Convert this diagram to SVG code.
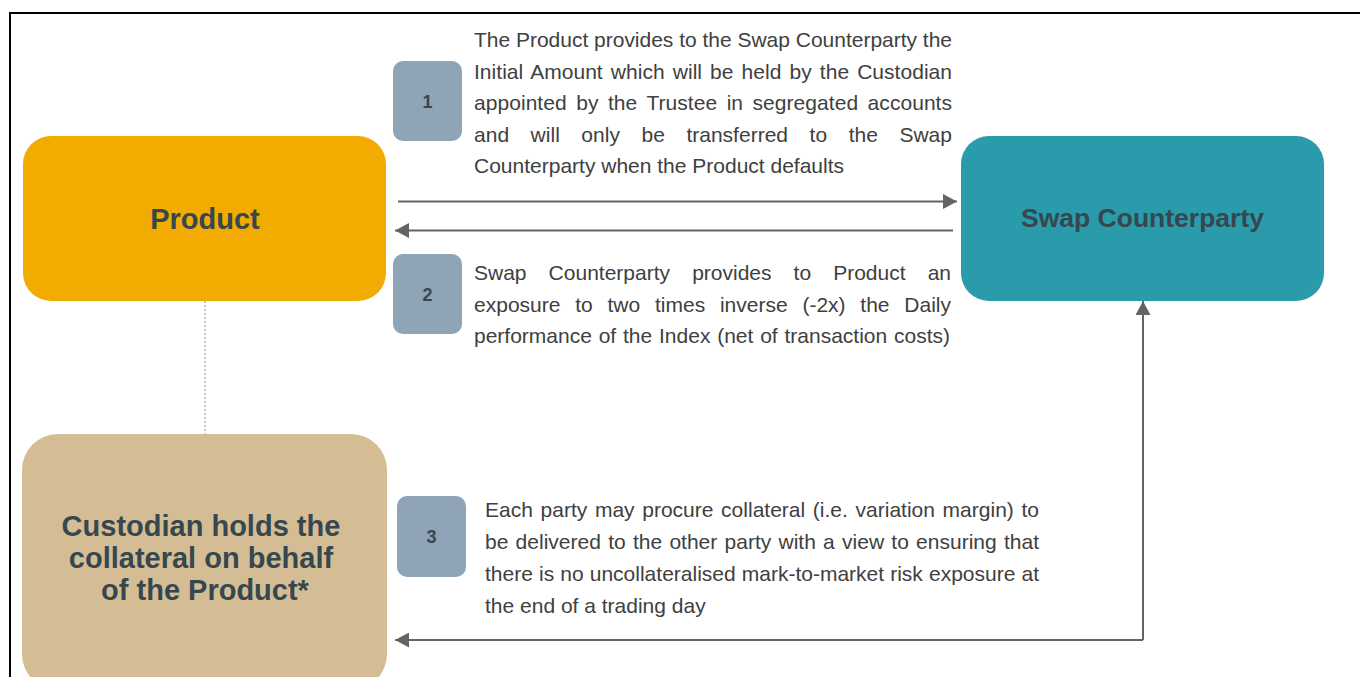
<svg xmlns="http://www.w3.org/2000/svg" width="1360" height="677" viewBox="0 0 1360 677">
  <style>
    .title { font-family: "Liberation Sans", Arial, sans-serif; font-weight: bold; fill: #37474F; text-anchor: middle; }
    .num { font-family: "Liberation Sans", Arial, sans-serif; font-weight: bold; font-size: 18px; fill: #37474F; text-anchor: middle; }
    .body { font-family: "Liberation Sans", Arial, sans-serif; font-size: 21px; fill: #404040; }
    .badge { fill: #8FA4B7; }
    .conn { fill: none; stroke: #646464; stroke-width: 2; }
  </style>
  <defs>
    <marker id="arrow" markerUnits="userSpaceOnUse" viewBox="0 0 14 15" markerWidth="14" markerHeight="15" refX="14" refY="7.5" orient="auto">
      <path d="M0,0 L14,7.5 L0,15 Z" fill="#646464"/>
    </marker>
  </defs>

  <rect width="1360" height="677" fill="#FFFFFF"/>
  <!-- page frame -->
  <rect x="10" y="13" width="1400" height="720" fill="none" stroke="#000000" stroke-width="2"/>

  <!-- connectors -->
  <g id="connectors">
    <line x1="205" y1="301" x2="205" y2="434" stroke="#C4C4C4" stroke-width="2" stroke-dasharray="2 2"/>
    <line class="conn" x1="398" y1="201.5" x2="957" y2="201.5" marker-end="url(#arrow)"/>
    <line class="conn" x1="953" y1="230.5" x2="395" y2="230.5" marker-end="url(#arrow)"/>
    <polyline class="conn" points="1143,640 1143,301" marker-end="url(#arrow)"/>
    <polyline class="conn" points="1143,640 395,640" marker-end="url(#arrow)"/>
  </g>

  <g id="product">
    <rect x="23" y="136" width="363" height="165" rx="28" fill="#F2AB00"/>
    <text class="title" x="205" y="229" font-size="29">Product</text>
  </g>

  <g id="swap-counterparty">
    <rect x="961" y="136" width="363" height="165" rx="28" fill="#2A9BAA"/>
    <text class="title" x="1142.5" y="227" font-size="26.5">Swap Counterparty</text>
  </g>

  <g id="custodian">
    <rect x="22" y="434" width="365" height="256" rx="36" fill="#D4BD94"/>
    <text class="title" font-size="29">
      <tspan x="205" y="536">Custodian holds the</tspan>
      <tspan x="205" y="568">collateral on behalf</tspan>
      <tspan x="205" y="600">of the Product*</tspan>
    </text>
  </g>

  <g id="step-1">
    <rect class="badge" x="393" y="61" width="69" height="80" rx="10"/>
    <text class="num" x="427.5" y="107.5">1</text>
    <text class="body" x="474" y="47" textLength="478" lengthAdjust="spacing">The Product provides to the Swap Counterparty the</text>
    <text class="body" x="474" y="78.5" word-spacing="2.2" textLength="478" lengthAdjust="spacing">Initial Amount which will be held by the Custodian</text>
    <text class="body" x="474" y="110" word-spacing="3.6" textLength="478" lengthAdjust="spacing">appointed by the Trustee in segregated accounts</text>
    <text class="body" x="474" y="141.5" word-spacing="15.7" textLength="478" lengthAdjust="spacing">and will only be transferred to the Swap</text>
    <text class="body" x="474" y="173">Counterparty when the Product defaults</text>
  </g>

  <g id="step-2">
    <rect class="badge" x="393" y="254" width="69" height="80" rx="10"/>
    <text class="num" x="427.5" y="300.5">2</text>
    <text class="body" x="474" y="280" word-spacing="16.2" textLength="477" lengthAdjust="spacing">Swap Counterparty provides to Product an</text>
    <text class="body" x="474" y="311.5" word-spacing="8.9" textLength="477" lengthAdjust="spacing">exposure to two times inverse (-2x) the Daily</text>
    <text class="body" x="474" y="343" word-spacing="1" textLength="476" lengthAdjust="spacing">performance of the Index (net of transaction costs)</text>
  </g>

  <g id="step-3">
    <rect class="badge" x="397" y="496" width="69" height="81" rx="10"/>
    <text class="num" x="431.5" y="543">3</text>
    <text class="body" x="485" y="516.5" word-spacing="1.8" textLength="554" lengthAdjust="spacing">Each party may procure collateral (i.e. variation margin) to</text>
    <text class="body" x="485" y="548.5" word-spacing="1.4" textLength="554" lengthAdjust="spacing">be delivered to the other party with a view to ensuring that</text>
    <text class="body" x="485" y="580.5" word-spacing="0.3" textLength="554" lengthAdjust="spacing">there is no uncollateralised mark-to-market risk exposure at</text>
    <text class="body" x="485" y="612.5">the end of a trading day</text>
  </g>
</svg>
